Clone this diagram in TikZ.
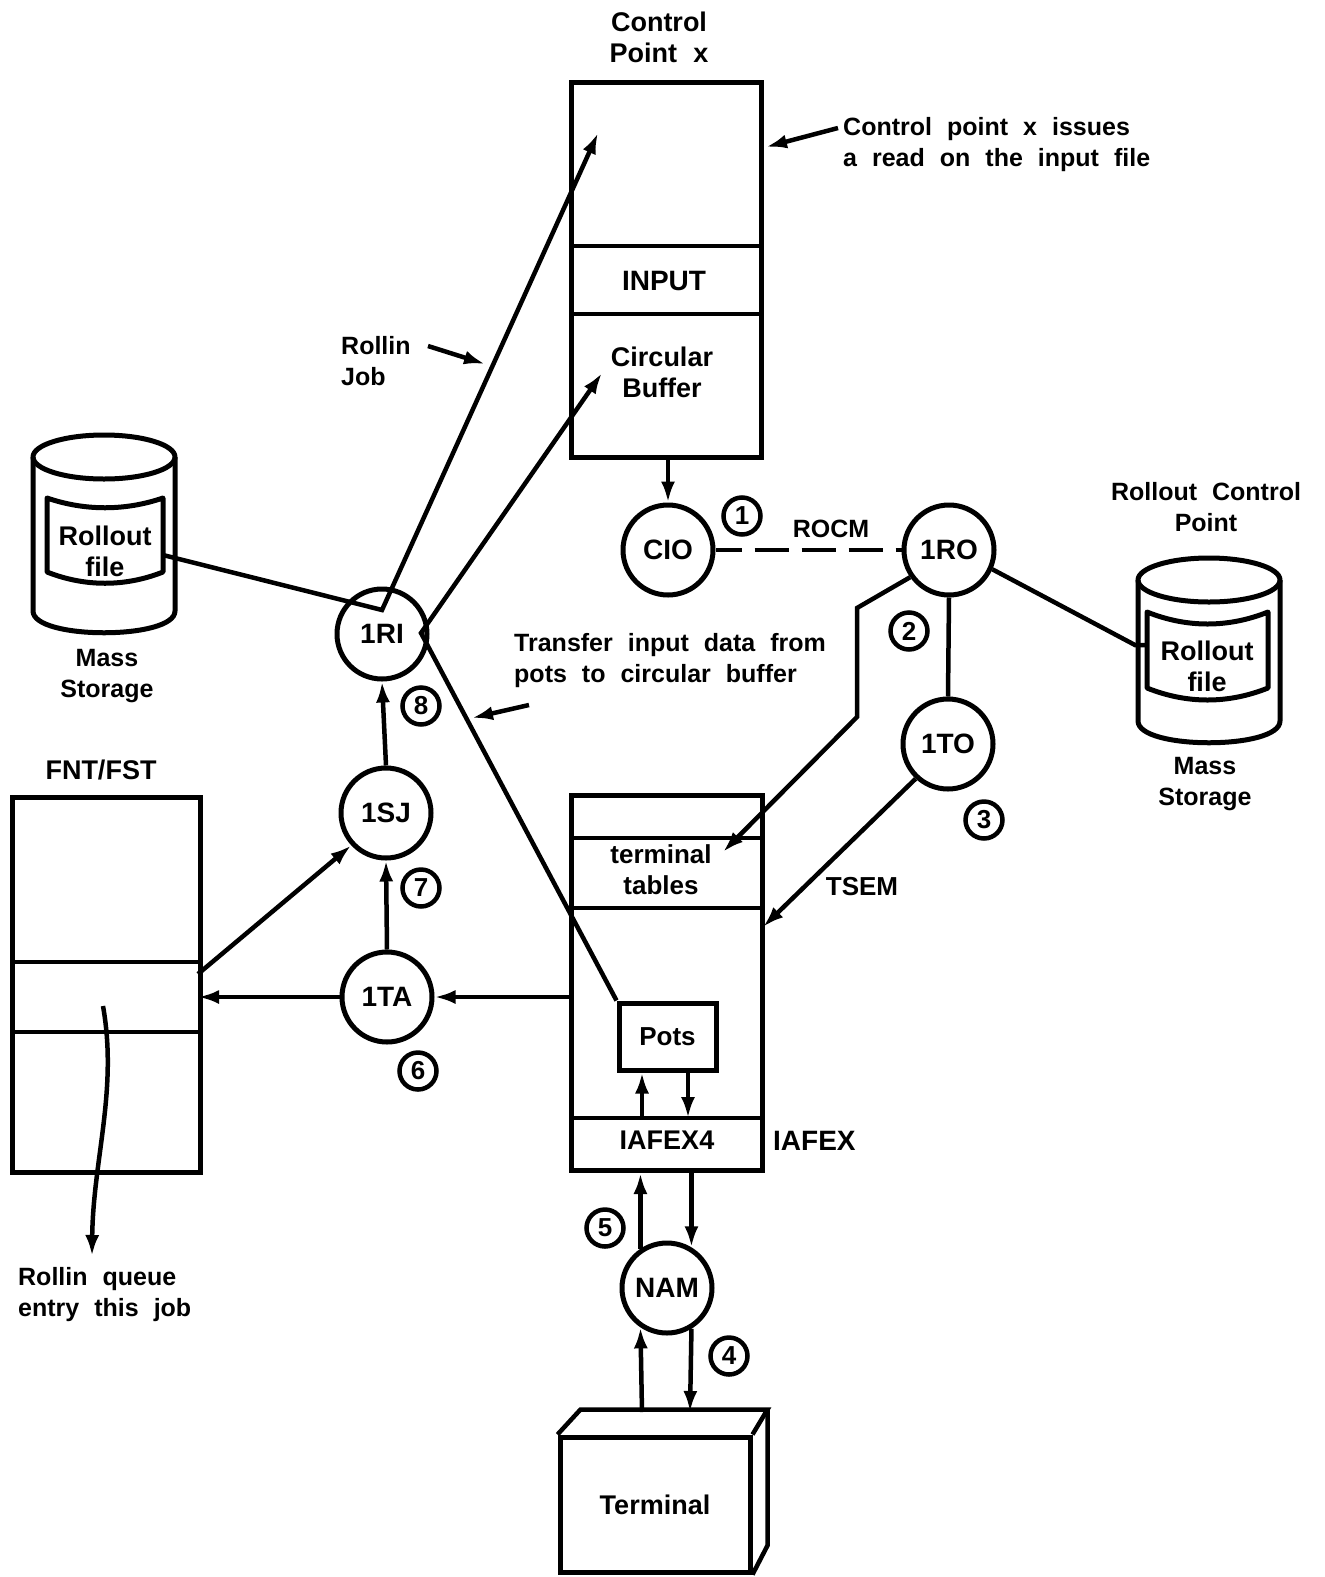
\documentclass[tikz,border=0pt]{standalone}
\usepackage{fontspec}
\setmainfont{Liberation Sans}
\usetikzlibrary{arrows.meta}
\newcommand\dgfs[2]{\bfseries\fontsize{#1}{#2}\selectfont\spaceskip=0.6em plus 0.1em\relax}
\begin{document}
\begin{tikzpicture}[x=1pt,y=-1pt,
  ln/.style={line width=4.5pt, line join=miter},
  arr/.style={line width=4.5pt, -{Latex[length=21pt,width=14pt]}},
  boxst/.style={draw, line width=5pt, inner sep=0pt},
  proc/.style={circle, draw, line width=5pt, minimum size=90pt, inner sep=0pt, font=\dgfs{28}{30}},
  num/.style={circle, draw, line width=4.5pt, minimum size=37pt, inner sep=0pt, font=\dgfs{26}{28}},
  lbl/.style={inner sep=0pt, align=center, font=\dgfs{25}{31}},
  big/.style={inner sep=0pt, align=center, font=\dgfs{27}{31}},
  cyl/.style={line width=5pt, line join=round}]
\useasboundingbox[fill=white] (0,0) rectangle (1325,1577);

% ---------- Control point x ----------
\node[big] (cptitle) at (659,37) {Control\\Point x};
\node[boxst, anchor=north west, minimum width=190pt, minimum height=375pt] (cp) at (569,80) {};
\draw[ln] (569,246) -- (759,246) (569,314) -- (759,314);
\node[big, font=\dgfs{28}{31}] (input) at (664,281) {INPUT};
\node[big] (cbuf) at (662,372) {Circular\\Buffer};
\node[lbl, align=left, anchor=west] (cpnote) at (843,145) {Control point x issues\\a read on the input file};
\coordinate (cpnoteA) at (838,128);
\coordinate (cpnoteB) at (766,147);
\draw[arr] (cpnoteA) -- (cpnoteB);

% ---------- processes ----------
\node[proc] (cio) at (668,550) {CIO};
\node[proc] (ro) at (949,550) {1RO};
\node[proc] (to) at (948,744) {1TO};
\node[proc] (ri) at (382,634) {1RI};
\node[proc] (sj) at (386,813) {1SJ};
\node[proc] (ta) at (387,997) {1TA};
\node[proc] (nam) at (667,1288) {NAM};

\node[num] (n1) at (742,516) {1};
\node[num] (n2) at (909,631) {2};
\node[num] (n3) at (984,820) {3};
\node[num] (n4) at (729,1356) {4};
\node[num] (n5) at (605,1228) {5};
\node[num] (n6) at (418,1071) {6};
\node[num] (n7) at (421,888) {7};
\node[num] (n8) at (421,706) {8};

\node[lbl] (rocm) at (831,529) {ROCM};
\draw[ln, dash pattern=on 34pt off 13pt, dash phase=8pt] (cio.east) -- (ro.west);
\draw[arr] (cio |- cp.south) -- (cio.north);
\draw[ln] (ro.south) -- (to.north);

% ---------- middle box ----------
\node[boxst, anchor=north west, minimum width=191pt, minimum height=375pt] (mb) at (569,793) {};
\draw[ln] (569,838) -- (760,838) (569,908) -- (760,908) (569,1118) -- (760,1118);
\node[lbl, font=\dgfs{26}{31}] (tt) at (661,870) {terminal\\tables};
\node[boxst, minimum width=97pt, minimum height=67pt, font=\dgfs{26}{30}] (pots) at (667.5,1036.5) {Pots};
\node[lbl, font=\dgfs{27}{30}] (iafexfour) at (667,1140) {IAFEX4};
\node[lbl, font=\dgfs{28}{30}, anchor=west] (iafex) at (773,1141) {IAFEX};
\node[lbl, font=\dgfs{26}{30}] (tsem) at (862,887) {TSEM};

\coordinate (k1) at (857,608);
\coordinate (k2) at (857,717);
\coordinate (ttip) at (723,852);
\draw[arr] (ro.215) -- (k1) -- (k2) -- (ttip);
\coordinate (mbtip) at (763,927);
\draw[arr] (to.227) -- (mbtip);

\coordinate (pu) at (642,1118);
\coordinate (pd) at (688,1118);
\draw[arr] (pu) -- (pu |- pots.south);
\draw[arr] (pd |- pots.south) -- (pd);

% ---------- NAM and terminal ----------
\draw[arr] (nam.124) -- (nam.124 |- mb.south);
\draw[arr] (nam.59 |- mb.south) -- (nam.59);
\node[boxst, minimum width=190pt, minimum height=135pt, font=\dgfs{27}{30}] (term) at (655,1504.5) {Terminal};
\draw[ln] (term.north west) -- ++(23,-25) -- ++(187,0) coordinate (tbr) -- (term.north east);
\draw[ln] (tbr) -- ++(0,136) -- (term.south east);
\coordinate (tu) at (642,1412);
\coordinate (td) at (690,1412);
\draw[arr] (tu) -- (nam.236);
\draw[arr] (nam.-59) -- (td);

% ---------- FNT/FST ----------
\node[big] (fnttitle) at (101,770) {FNT/FST};
\node[boxst, anchor=north west, minimum width=188pt, minimum height=375pt] (fnt) at (10,795) {};
\draw[ln] (10,962) -- (198,962) (10,1032) -- (198,1032);
\coordinate (fnte) at (198,997);
\draw[arr] (mb.west |- ta) -- (ta.east);
\draw[arr] (ta.west) -- (fnte);
\coordinate (fsj) at (198,974);
\draw[arr] (fsj) -- (sj.223);
\draw[arr] (ta.north) -- (sj.south);
\draw[arr] (sj.north) -- (ri.south);
\coordinate (q0) at (103,1006);
\coordinate (q1) at (92,1256);
\draw[arr] (q0) .. controls (118,1090) and (93,1160) .. (q1);
\node[lbl, align=left, anchor=west] (rq) at (18,1295) {Rollin queue\\entry this job};

% ---------- left mass storage ----------
\draw[cyl] (104,457) ellipse [x radius=71pt, y radius=22pt];
\draw[cyl] (33,457) -- (33,611) .. controls (33,640) and (175,640) .. (175,611) -- (175,457);
\draw[cyl] (47,498) .. controls (85,511) and (125,511) .. (163,498) -- (163,572) .. controls (125,587) and (85,587) .. (47,572) -- cycle;
\node[big] (lfile) at (105,551) {Rollout\\file};
\node[lbl] (lms) at (107,676) {Mass\\Storage};

% ---------- right mass storage ----------
\node[lbl] (rcp) at (1206,507) {Rollout Control\\Point};
\draw[cyl] (1209,580) ellipse [x radius=71pt, y radius=22pt];
\draw[cyl] (1138,580) -- (1138,721) .. controls (1138,750) and (1280,750) .. (1280,721) -- (1280,580);
\draw[cyl] (1147,612) .. controls (1187,628) and (1228,628) .. (1268,612) -- (1268,688) .. controls (1228,704) and (1187,704) .. (1147,688) -- cycle;
\node[big] (rfile) at (1207,666) {Rollout\\file};
\node[lbl] (rms) at (1205,784) {Mass\\Storage};
\coordinate (rc1) at (1135,645);
\coordinate (rc2) at (1147,645);
\draw[ln] (ro.-24) -- (rc1) -- (rc2);

% ---------- rollin connections ----------
\coordinate (lfl) at (163,555);
\coordinate (rij) at (382,610);
\coordinate (cpt) at (598,133);
\draw[arr] (lfl) -- (rij) -- (cpt);
\coordinate (rin) at (421,633);
\coordinate (cbt) at (602,373);
\draw[arr] (pots.north west) -- (rin) -- (cbt);

\node[lbl, align=left, anchor=west] (rj) at (341,361) {Rollin\\Job};
\coordinate (rjA) at (428,346);
\coordinate (rjB) at (485,364);
\draw[arr] (rjA) -- (rjB);

\node[lbl, align=left, anchor=west] (xfer) at (514,661) {Transfer input data from\\pots to circular buffer};
\coordinate (xA) at (529,705);
\coordinate (xB) at (472,718);
\draw[arr] (xA) -- (xB);
\end{tikzpicture}
\end{document}
